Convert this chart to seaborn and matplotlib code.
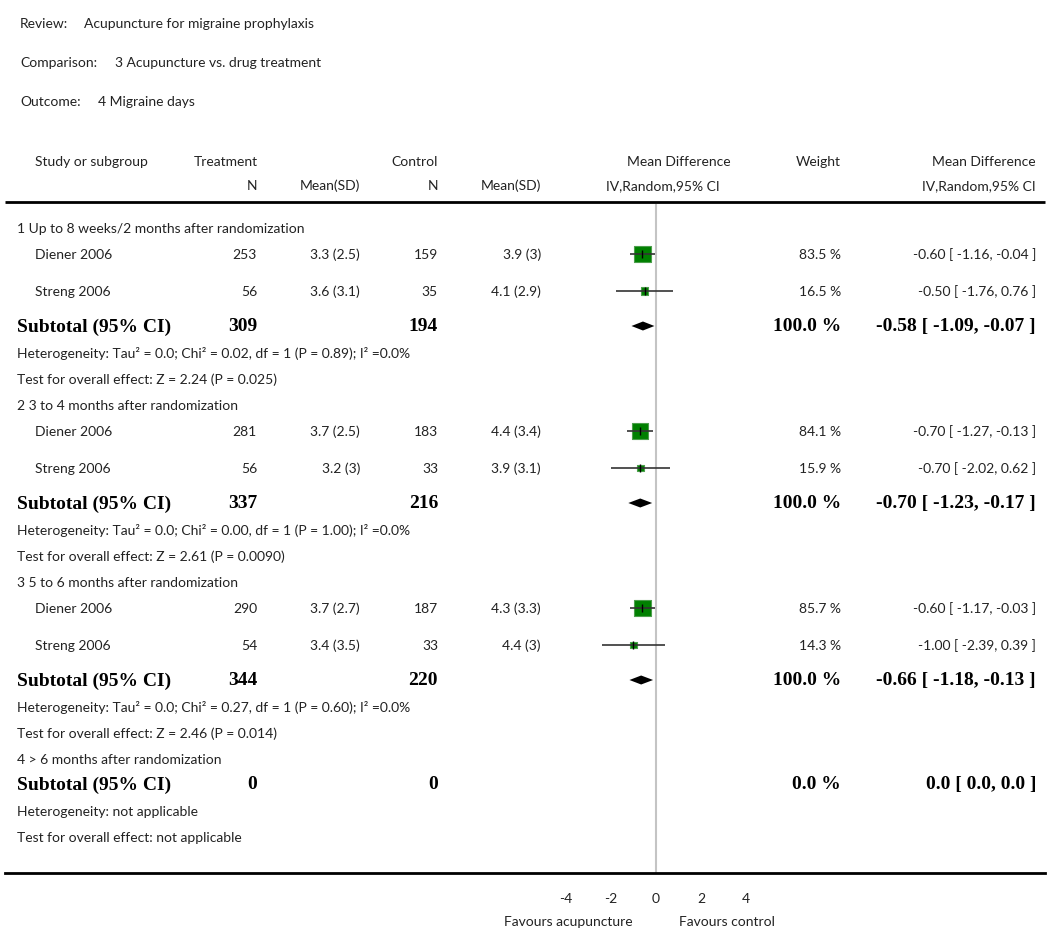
import numpy as np
import pandas as pd
import seaborn as sns
import matplotlib.pyplot as plt

# ---- data ----
review = "Acupuncture for migraine prophylaxis"
comparison = "3 Acupuncture vs. drug treatment"
outcome = "4 Migraine days"

groups = [
    "1 Up to 8 weeks/2 months after randomization",
    "2 3 to 4 months after randomization",
    "3 5 to 6 months after randomization",
    "4 > 6 months after randomization",
]

study_group = [0, 0, 1, 1, 2, 2]
study_names = ["Diener 2006", "Streng 2006", "Diener 2006", "Streng 2006", "Diener 2006", "Streng 2006"]
trt_n = [253, 56, 281, 56, 290, 54]
trt_mean = [3.3, 3.6, 3.7, 3.2, 3.7, 3.4]
trt_sd = [2.5, 3.1, 2.5, 3, 2.7, 3.5]
ctl_n = [159, 35, 183, 33, 187, 33]
ctl_mean = [3.9, 4.1, 4.4, 3.9, 4.3, 4.4]
ctl_sd = [3, 2.9, 3.4, 3.1, 3.3, 3]
md = [-0.60, -0.50, -0.70, -0.70, -0.60, -1.00]
md_lo = [-1.16, -1.76, -1.27, -2.02, -1.17, -2.39]
md_hi = [-0.04, 0.76, -0.13, 0.62, -0.03, 0.39]
weight = [83.5, 16.5, 84.1, 15.9, 85.7, 14.3]

sub_trt_n = [309, 337, 344, 0]
sub_ctl_n = [194, 216, 220, 0]
sub_md = [-0.58, -0.70, -0.66, 0.0]
sub_lo = [-1.09, -1.23, -1.18, 0.0]
sub_hi = [-0.07, -0.17, -0.13, 0.0]
sub_weight = [100.0, 100.0, 100.0, 0.0]
heterogeneity = [
    "Heterogeneity: Tau² = 0.0; Chi² = 0.02, df = 1 (P = 0.89); I² =0.0%",
    "Heterogeneity: Tau² = 0.0; Chi² = 0.00, df = 1 (P = 1.00); I² =0.0%",
    "Heterogeneity: Tau² = 0.0; Chi² = 0.27, df = 1 (P = 0.60); I² =0.0%",
    "Heterogeneity: not applicable",
]
overall = [
    "Test for overall effect: Z = 2.24 (P = 0.025)",
    "Test for overall effect: Z = 2.61 (P = 0.0090)",
    "Test for overall effect: Z = 2.46 (P = 0.014)",
    "Test for overall effect: not applicable",
]
x_ticks = [-4, -2, 0, 2, 4]

# ---- layout (pixels) ----
W, H = 1050, 937
X0 = 656      # pixel of zero effect
PPU = 22.5    # pixels per unit of mean difference

sns.set_style("white")
plt.rcParams['font.family'] = ['Lato', 'DejaVu Sans']
TXT = dict(fontsize=10, color="#222222", va="center")
BOLD = dict(fontsize=14, color="black", va="center", family="Liberation Serif", weight="bold")

fig = plt.figure(figsize=(W / 100, H / 100), dpi=100)
ax = fig.add_axes([0, 0, 1, 1])
ax.set_xlim(-X0 / PPU, (W - X0) / PPU)
ax.set_ylim(H, 0)
tr = ax.get_yaxis_transform()


def put(px, y, s, ha="left", style=TXT):
    ax.text(px / W, y, s, transform=tr, ha=ha, **style)


# header block
put(20, 24, "Review:")
put(84, 24, review)
put(20, 63, "Comparison:")
put(115, 63, comparison)
put(20, 102, "Outcome:")
put(98, 102, outcome)

put(35, 162, "Study or subgroup")
put(258, 162, "Treatment", "right")
put(257, 186, "N", "right")
put(360, 186, "Mean(SD)", "right")
put(438, 162, "Control", "right")
put(438, 186, "N", "right")
put(541, 186, "Mean(SD)", "right")
put(731, 162, "Mean Difference", "right")
put(720, 186, "IV,Random,95% CI", "right")
put(841, 162, "Weight", "right")
put(1036, 162, "Mean Difference", "right")
put(1036, 186, "IV,Random,95% CI", "right")

ax.hlines(203, 5 / W, 1045 / W, transform=tr, color="black", lw=2)

# rows
study_y = []
sub_y = []
y = 229
for g, label in enumerate(groups):
    put(17, y, label)
    idx = [i for i, sg in enumerate(study_group) if sg == g]
    for k, i in enumerate(idx):
        y += 26 if k == 0 else 37
        study_y.append(y)
        put(35, y, study_names[i])
        put(257, y, f"{trt_n[i]}", "right")
        put(360, y, f"{trt_mean[i]:g} ({trt_sd[i]:g})", "right")
        put(438, y, f"{ctl_n[i]}", "right")
        put(541, y, f"{ctl_mean[i]:g} ({ctl_sd[i]:g})", "right")
        put(841, y, f"{weight[i]:.1f} %", "right")
        put(1036, y, f"{md[i]:.2f} [ {md_lo[i]:.2f}, {md_hi[i]:.2f} ]", "right")
    y += 35 if idx else 25
    sub_y.append(y)
    put(17, y, "Subtotal (95% CI)", style=BOLD)
    put(257, y, f"{sub_trt_n[g]}", "right", BOLD)
    put(438, y, f"{sub_ctl_n[g]}", "right", BOLD)
    put(841, y, f"{sub_weight[g]:.1f} %", "right", BOLD)
    if sub_trt_n[g] > 0:
        put(1036, y, f"{sub_md[g]:.2f} [ {sub_lo[g]:.2f}, {sub_hi[g]:.2f} ]", "right", BOLD)
    else:
        put(1036, y, f"{sub_md[g]:.1f} [ {sub_lo[g]:.1f}, {sub_hi[g]:.1f} ]", "right", BOLD)
    y += 27
    put(17, y, heterogeneity[g])
    y += 26
    put(17, y, overall[g])
    y += 26

studies = pd.DataFrame({"md": md, "lo": md_lo, "hi": md_hi, "w": weight, "y": study_y})

# zero line
ax.vlines(0, 205, 874, color="#c4c4c4", lw=1.5, zorder=1)

# study squares + CIs
sns.scatterplot(data=studies, x="md", y="y", size="w", sizes=(0, 159), size_norm=(0, 100),
                marker="s", color="#008000", edgecolor="#4c9f4c", linewidth=0.8,
                legend=False, ax=ax, zorder=3)
ax.hlines(studies["y"], studies["lo"], studies["hi"], color="#333333", lw=1.2, zorder=4)
ax.plot(studies["md"], studies["y"], ls="none", marker="|", ms=6, mew=1, color="black", zorder=5)

# subtotal diamonds
for g in range(len(groups)):
    if sub_trt_n[g] == 0:
        continue
    yy = sub_y[g]
    ax.fill([sub_lo[g], sub_md[g], sub_hi[g], sub_md[g]], [yy, yy - 4.5, yy, yy + 4.5],
            color="black", lw=0, zorder=4)

# bottom axis
for s in ["top", "left", "right"]:
    ax.spines[s].set_visible(False)
ax.spines["bottom"].set_position(("data", 874))
ax.spines["bottom"].set_bounds((5 - X0) / PPU, (1045 - X0) / PPU)
ax.spines["bottom"].set_linewidth(2)
ax.spines["bottom"].set_color("black")
ax.set_xticks(x_ticks)
ax.set_xticklabels([f"{t}" for t in x_ticks])
ax.tick_params(axis="x", direction="in", length=5, width=1.2, color="black",
               labelsize=10, labelcolor="#222222", pad=14)
ax.set_yticks([])
ax.set_xlabel("")
ax.set_ylabel("")

put(633, 922, "Favours acupuncture", "right")
put(679, 922, "Favours control")

fig.savefig("out.png", dpi=100)
